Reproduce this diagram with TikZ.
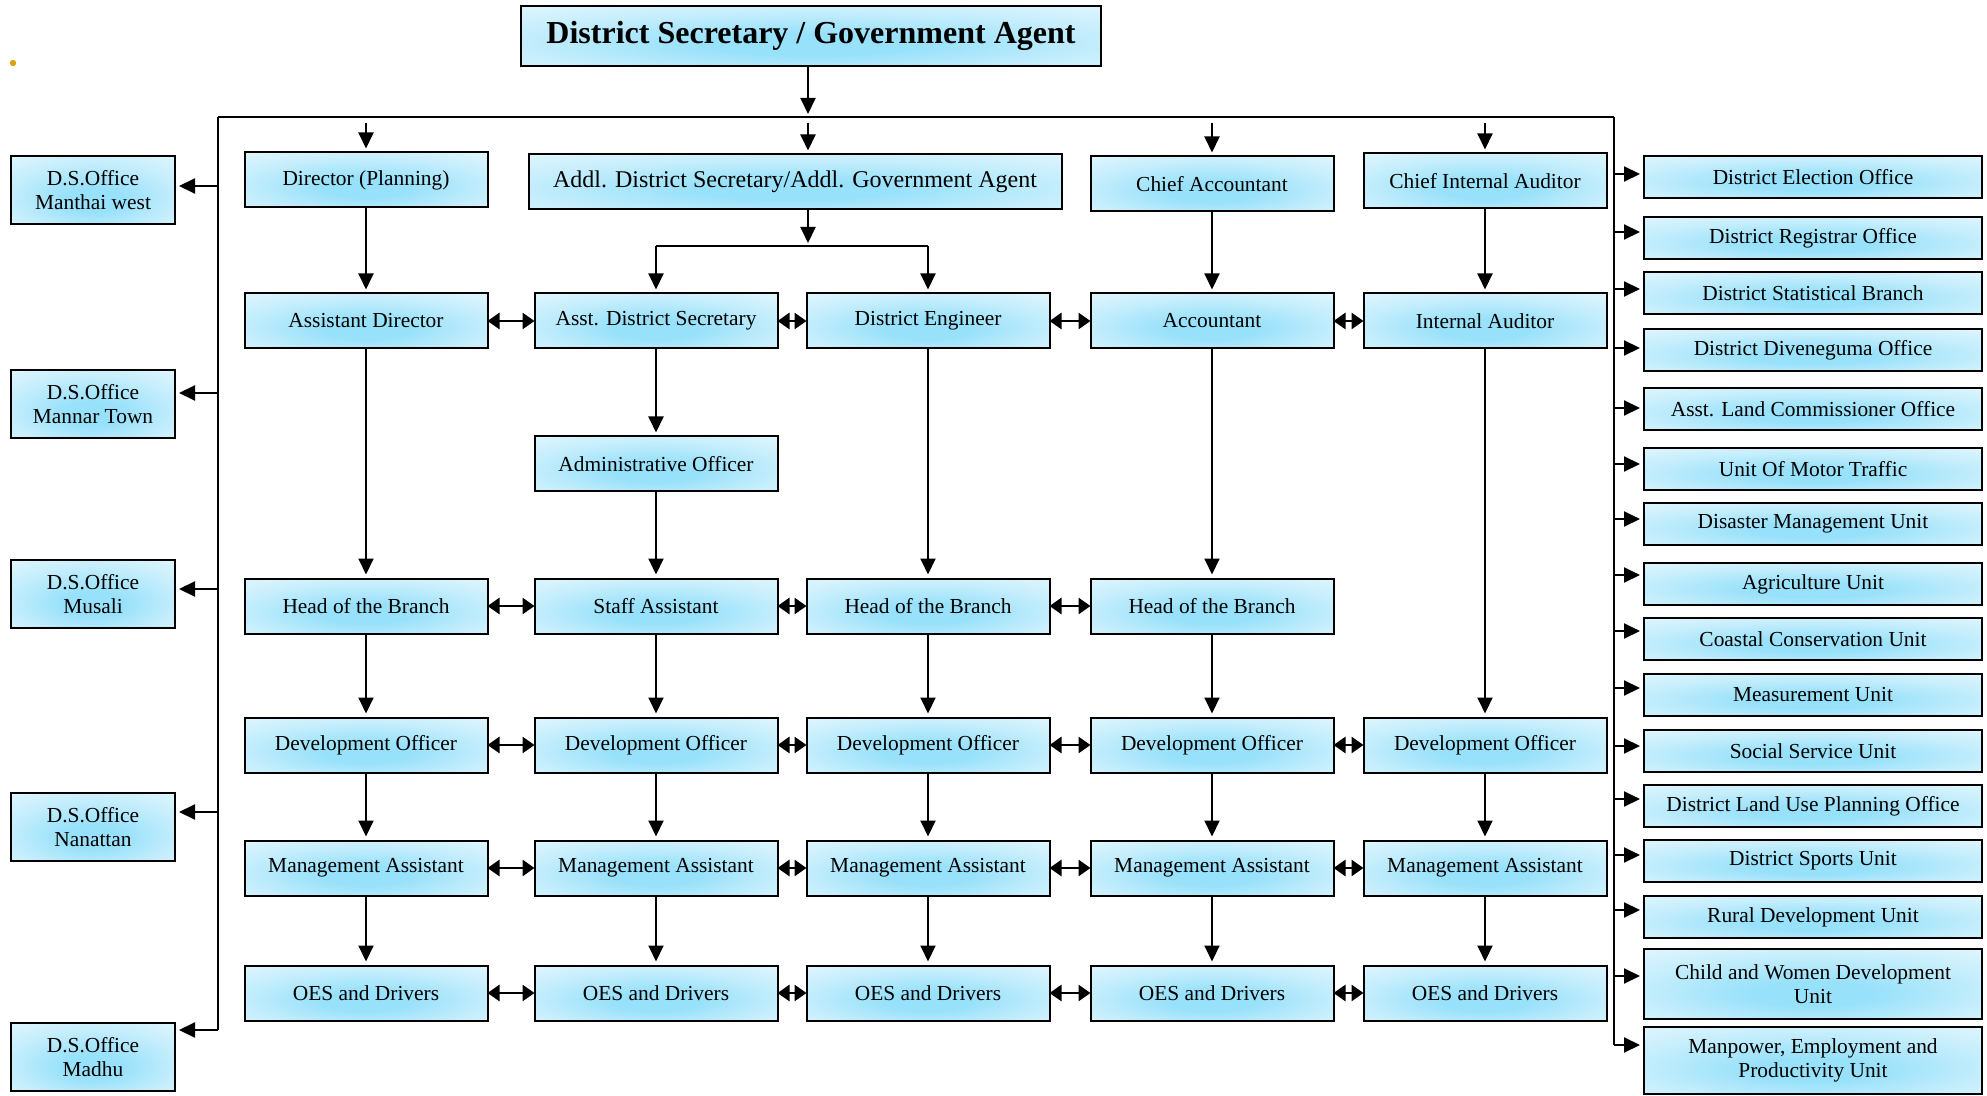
\documentclass[tikz,border=0pt]{standalone}
\usepackage{fontspec}
\setmainfont{Liberation Serif}
\usepackage{xcolor}
\usetikzlibrary{arrows.meta}
\definecolor{glowin}{RGB}{152,225,250}
\definecolor{glowmid}{RGB}{198,238,252}
\definecolor{glowout}{RGB}{234,249,254}
\definecolor{dot}{RGB}{222,162,16}
\pgfdeclareradialshading{glow}{\pgfpoint{0bp}{-8bp}}{color(0bp)=(glowin); color(9bp)=(glowin); color(26bp)=(glowmid); color(44bp)=(glowout); color(80bp)=(glowout)}

\begin{document}
\begin{tikzpicture}[x=0.5pt,y=-0.5pt,
        box/.style={draw,line width=1pt,shading=glow,minimum width=121.5pt,minimum height=27.5pt,inner sep=1pt,align=center,font=\fontsize{10.7}{12}\selectfont},
        unitbox/.style={box,minimum width=169pt,minimum height=21pt},
        dsbox/.style={box,minimum width=82pt,minimum height=34pt},
        link/.style={line width=1pt,shorten >=1.5pt,-{Triangle[length=8pt,width=7.5pt]}},
        both/.style={line width=1.4pt,shorten <=-0.5pt,shorten >=-0.5pt,{Triangle[length=6pt,width=8pt]}-{Triangle[length=6pt,width=8pt]}},
        bar/.style={line width=1pt}]
    \useasboundingbox (0,0) rectangle (1987,1096);
    \fill[dot] (13,63) circle (1.6pt);

    % head and the two rails
    \node[box,font=\fontsize{16}{19}\selectfont\bfseries,minimum width=290pt,minimum height=30pt] (dsga) at (811,36) {District Secretary / Government Agent};
    \coordinate (topL) at (218,117);
    \coordinate (topR) at (1614,117);
    \coordinate (fork) at (808,246);
    \draw[bar] (topL) -- (topR);
    \draw[link] (dsga.south -| fork) -- (fork |- topL);

    \node[box] (dirp) at (366,180) {Director (Planning)};
    \node[box,minimum width=266.5pt,font=\fontsize{12}{14}\selectfont] (addl) at (795,182) {Addl. District Secretary/Addl. Government Agent};
    \node[box] (chacc) at (1212,184) {Chief Accountant};
    \node[box] (chaud) at (1485,181) {Chief Internal Auditor};
    \foreach \n in {dirp,chacc,chaud}
        \draw[link,shorten <=3pt] (\n.north |- topL) -- (\n.north);
    \draw[link,shorten <=3pt] (fork |- topL) -- (fork |- addl.north);

    % columns
    \foreach \n/\x/\t in {asdir/366/Assistant Director, asds/656/Asst. District Secretary, deng/928/District Engineer, acct/1212/Accountant, iaud/1485/Internal Auditor}
        \node[box] (\n) at (\x,321) {\t};
    \node[box] (admo) at (656,464) {Administrative Officer};
    \foreach \n/\x/\t in {hob1/366/Head of the Branch, stfa/656/Staff Assistant, hob2/928/Head of the Branch, hob3/1212/Head of the Branch}
        \node[box] (\n) at (\x,606) {\t};
    \foreach \i/\x in {1/366,2/656,3/928,4/1212,5/1485}{
        \node[box] (dev\i) at (\x,745) {Development Officer};
        \node[box] (ma\i) at (\x,868) {Management Assistant};
        \node[box] (oes\i) at (\x,993) {OES and Drivers};
    }

    \draw[link] (fork |- addl.south) -- (fork);
    \draw[bar] (fork -| asds.north) -- (fork -| deng.north);
    \draw[link] (fork -| asds.north) -- (asds.north);
    \draw[link] (fork -| deng.north) -- (deng.north);

    \foreach \a/\b in {dirp/asdir, asdir/hob1, hob1/dev1, dev1/ma1, ma1/oes1, asds/admo, admo/stfa, stfa/dev2, dev2/ma2, ma2/oes2, deng/hob2, hob2/dev3, dev3/ma3, ma3/oes3, chacc/acct, acct/hob3, hob3/dev4, dev4/ma4, ma4/oes4, chaud/iaud, iaud/dev5, dev5/ma5, ma5/oes5}
        \draw[link] (\a) -- (\b);

    \foreach \a/\b in {asdir/asds, asds/deng, deng/acct, acct/iaud, hob1/stfa, stfa/hob2, hob2/hob3}
        \draw[both] (\a.east) -- (\b.west);
    \foreach \i/\j in {1/2,2/3,3/4,4/5}{
        \draw[both] (dev\i.east) -- (dev\j.west);
        \draw[both] (ma\i.east) -- (ma\j.west);
        \draw[both] (oes\i.east) -- (oes\j.west);
    }

    % D.S. offices on the left
    \foreach \n/\y/\d/\t in {o1/190/2/Manthai west, o2/404/5.5/Mannar Town, o3/594/2.5/Musali, o4/827/7.5/Nanattan, o5/1057/13.5/Madhu}{
        \node[dsbox] (\n) at (93,\y) {D.S.Office\\\t};
        \path ([yshift=\d pt]\n.east) coordinate (\n-in);
        \draw[link] (\n-in -| topL) -- (\n-in);
    }
    \draw[bar] (topL) -- (topL |- o5-in);

    % units on the right
    \foreach \n/\y/\h/\d/\t in {u1/177/21/1.5/District Election Office, u2/238/21/3/District Registrar Office, u3/293/21/2/District Statistical Branch, u4/350/21/1/District Diveneguma Office, u5/409/21/0.5/Asst. Land Commissioner Office, u6/469/21/2.5/Unit Of Motor Traffic, u7/524/21/2.5/Disaster Management Unit, u8/584/21/4.5/Agriculture Unit, u9/639/21/4/Coastal Conservation Unit, u10/695/21/3.5/Measurement Unit, u11/751/21/2.5/Social Service Unit, u12/806/21/3.5/District Land Use Planning Office, u13/861/21/3/District Sports Unit, u14/917/21/3.5/Rural Development Unit, u15/984/35/4/Child and Women Development\\Unit, {u16/1060/33.5/7.5/Manpower, Employment and\\Productivity Unit}}{
        \node[unitbox,minimum height=\h pt] (\n) at (1813,\y) {\t};
        \path ([yshift=\d pt]\n.west) coordinate (\n-in);
        \draw[link] (\n-in -| topR) -- (\n-in);
    }
    \draw[bar] (topR) -- (topR |- u16-in);
\end{tikzpicture}
\end{document}
